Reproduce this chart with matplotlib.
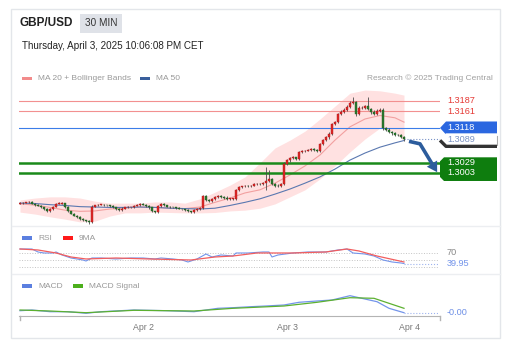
import numpy as np
import matplotlib.pyplot as plt
from matplotlib.patches import Polygon, Rectangle

plt.rcParams['font.family'] = ['Liberation Sans', 'DejaVu Sans']

# ---------------- data ----------------
# 30 min closes, GBP/USD
closes = [1.2926, 1.2927, 1.2928, 1.2929, 1.2925, 1.2921, 1.2919, 1.2915, 1.2911, 1.2906,
          1.2911, 1.2917, 1.2925, 1.2925, 1.2926, 1.2916, 1.2906, 1.2899, 1.2894, 1.2891,
          1.2885, 1.2883, 1.2880, 1.2878, 1.2917, 1.2920, 1.2922, 1.2922, 1.2921, 1.2920,
          1.2919, 1.2916, 1.2911, 1.2908, 1.2912, 1.2915, 1.2916, 1.2916, 1.2919, 1.2921,
          1.2924, 1.2922, 1.2919, 1.2915, 1.2906, 1.2903, 1.2919, 1.2924, 1.2920, 1.2917,
          1.2916, 1.2915, 1.2913, 1.2911, 1.2910, 1.2908, 1.2906, 1.2903, 1.2908, 1.2911,
          1.2913, 1.2943, 1.2934, 1.2931, 1.2937, 1.2942, 1.2944, 1.2942, 1.2940, 1.2937,
          1.2937, 1.2937, 1.2960, 1.2967, 1.2969, 1.2970, 1.2969, 1.2971, 1.2975, 1.2976,
          1.2975, 1.2977, 1.2983, 1.2988, 1.2976, 1.2971, 1.2970, 1.2975, 1.3026, 1.3036,
          1.3041, 1.3043, 1.3039, 1.3057, 1.3059, 1.3060, 1.3062, 1.3064, 1.3062, 1.3059,
          1.3077, 1.3087, 1.3094, 1.3103, 1.3128, 1.3133, 1.3154, 1.3160, 1.3164, 1.3172,
          1.3182, 1.3184, 1.3154, 1.3169, 1.3170, 1.3173, 1.3167, 1.3159, 1.3154, 1.3161,
          1.3164, 1.3118, 1.3113, 1.3108, 1.3104, 1.3101, 1.3100, 1.3095, 1.3089]
first_open = 1.2925
# wick length above / below the body, in pips
wick_up = [2, 1, 2, 3, 2, 1, 2, 2, 1, 2,
           3, 2, 2, 3, 2, 1, 2, 1, 2, 2,
           1, 2, 1, 2, 3, 2, 2, 3, 2, 1,
           2, 2, 1, 2, 3, 2, 2, 1, 2, 3,
           2, 2, 1, 2, 2, 1, 3, 2, 2, 1,
           2, 1, 2, 2, 1, 2, 2, 1, 2, 2,
           2, 3, 3, 2, 2, 2, 3, 2, 2, 3,
           2, 2, 3, 2, 2, 3, 2, 2, 3, 2,
           2, 3, 35, 23, 2, 2, 3, 2, 4, 3,
           3, 4, 2, 3, 3, 2, 3, 2, 2, 3,
           3, 2, 3, 4, 3, 4, 3, 3, 4, 4,
           5, 13, 4, 5, 4, 4, 24, 3, 4, 5,
           4, 5, 3, 4, 3, 3, 2, 3, 2]
wick_dn = [2, 2, 1, 2, 2, 2, 1, 2, 3, 2,
           2, 2, 1, 2, 2, 2, 3, 2, 2, 3,
           2, 3, 2, 5, 2, 2, 1, 2, 2, 2,
           2, 2, 3, 2, 2, 1, 2, 2, 2, 1,
           2, 2, 2, 3, 2, 3, 2, 2, 1, 2,
           2, 2, 2, 1, 2, 2, 2, 3, 2, 2,
           2, 2, 3, 2, 3, 2, 2, 2, 3, 2,
           2, 3, 2, 2, 3, 2, 2, 2, 2, 3,
           2, 3, 17, 4, 3, 3, 2, 3, 3, 3,
           4, 3, 3, 2, 3, 3, 2, 3, 3, 2,
           3, 3, 2, 3, 3, 3, 3, 2, 3, 3,
           3, 3, 5, 4, 3, 4, 4, 4, 3, 3,
           3, 4, 3, 3, 3, 4, 3, 3, 3]

# indicators sampled every 5 candles
ind_idx = [0, 5, 10, 15, 20, 25, 30, 35, 40, 45, 50, 55, 60, 65, 70, 75, 80, 85, 90,
           95, 100, 105, 110, 115, 120, 125, 128]
ma20 = [1.2924, 1.2921, 1.2915, 1.2908, 1.2905, 1.2906, 1.2911, 1.2913, 1.2916, 1.2915,
        1.2913, 1.2912, 1.2916, 1.2928, 1.2939, 1.2952, 1.2960, 1.2977, 1.2998, 1.3021,
        1.3049, 1.3087, 1.3121, 1.3141, 1.3150, 1.3144, 1.3133]
bb_upper = [1.2934, 1.2939, 1.2942, 1.2942, 1.2939, 1.2931, 1.2926, 1.2926, 1.2926, 1.2929,
            1.2929, 1.2926, 1.2937, 1.2954, 1.2972, 1.2993, 1.3029, 1.3067, 1.3087, 1.3110,
            1.3141, 1.3174, 1.3207, 1.3215, 1.3213, 1.3207, 1.3202]
bb_lower = [1.2903, 1.2898, 1.2891, 1.2885, 1.2878, 1.2880, 1.2893, 1.2901, 1.2901, 1.2903,
            1.2902, 1.2901, 1.2901, 1.2902, 1.2906, 1.2908, 1.2913, 1.2924, 1.2942, 1.2960,
            1.2988, 1.3021, 1.3057, 1.3090, 1.3118, 1.3108, 1.3085]
ma50 = [1.2926, 1.2925, 1.2922, 1.2920, 1.2917, 1.2916, 1.2915, 1.2915, 1.2916, 1.2915,
        1.2913, 1.2912, 1.2911, 1.2913, 1.2920, 1.2928, 1.2937, 1.2949, 1.2962, 1.2977,
        1.2993, 1.3013, 1.3036, 1.3054, 1.3069, 1.3080, 1.3086]

rsi_idx = [0, 4, 6, 8, 11, 12, 14, 17, 21, 22, 24, 27, 32, 37, 41, 45, 47, 51, 54, 56, 59,
           62, 64, 67, 71, 72, 76, 81, 83, 84, 86, 91, 96, 102, 106, 109, 111, 115, 118,
           121, 124, 127, 128]
rsi_val = [81.4, 81.4, 72.9, 70, 70, 72.9, 64.3, 55.7, 50, 47.1, 55.7, 55.7, 52.9, 55.7,
           55.7, 52.9, 55.7, 52.9, 50, 44.3, 52.9, 67.1, 58.6, 64.3, 61.4, 70, 70, 72.9,
           72.9, 58.6, 64.3, 70, 72.9, 72.9, 78.6, 81.4, 70, 67.1, 61.4, 50, 44.3, 41.4, 39.95]
rsi9_idx = [0, 6, 12, 17, 22, 32, 43, 57, 65, 71, 79, 91, 102, 109, 113, 119, 128]
rsi9_val = [81.4, 78.6, 70, 58.6, 52.9, 55.7, 52.9, 50, 58.6, 61.4, 70, 70, 72.9, 81.4,
            75.7, 61.4, 44.3]
rsi_levels = [70, 50, 30]

macd_idx = [0, 4, 10, 16, 22, 27, 38, 49, 58, 66, 71, 77, 82, 88, 93, 99, 104, 110, 113,
            119, 123, 128]
macd_val = [0.00013, 0.0002, 0.00003, 0.00003, -0.00013, 0.00003, 0.0002, 0.00013, 0.00003,
            0.00037, 0.00043, 0.00053, 0.0006, 0.0007, 0.00097, 0.0011, 0.0012, 0.00163,
            0.00143, 0.00103, 0.00037, -0.00007]
sig_idx = [0, 10, 22, 38, 58, 71, 88, 99, 110, 118, 123, 128]
sig_val = [0.0002, 0.0001, -0.00007, 0.00017, 0.0001, 0.00037, 0.0006, 0.00097, 0.00143,
           0.00137, 0.00087, 0.00037]

resist = [1.3187, 1.3161]
pivot = 1.3118
support = [1.3029, 1.3003]
last_price = 1.3089
date_ticks = [41.3, 89.3, 130]
date_labels = ['Apr 2', 'Apr 3', 'Apr 4']

# ---------------- layout (pixels, top-down) ----------------
W, H = 510, 352
fig = plt.figure(figsize=(W / 100, H / 100), dpi=100)
fig.patch.set_facecolor('white')

def box(x0, y0, x1, y1):  # pixel rect -> figure fraction
    return [x0 / W, 1 - y1 / H, (x1 - x0) / W, (y1 - y0) / H]

XLIM = (-0.33, 140)
ax = fig.add_axes(box(19, 88, 440, 228))
ax_rsi = fig.add_axes(box(19, 242, 440, 270))
ax_macd = fig.add_axes(box(19, 288, 440, 316))
for a in (ax, ax_rsi, ax_macd):
    a.set_xlim(*XLIM)
    for s in a.spines.values():
        s.set_visible(False)
    a.set_yticks([])
    a.set_xticks([])
ax.set_ylim(1.28624, 1.32202)
ax_rsi.set_ylim(21.4, 101.4)
ax_macd.set_ylim(-0.0004, 0.0024)

# ---------------- main price panel ----------------
n = len(closes)
x = np.arange(n)
c = np.array(closes)
o = np.r_[first_open, c[:-1]]
hi = np.maximum(o, c) + np.array(wick_up) * 1e-4
lo = np.minimum(o, c) - np.array(wick_dn) * 1e-4
up = c >= o
col = np.where(up, '#e02626', '#2b7a2e')  # red = up, green = down on this chart
edge = np.where(up, '#a81818', '#1d5a20')

ax.fill_between(ind_idx, bb_lower, bb_upper, color='#ffdede', alpha=0.9, lw=0, zorder=1)
ax.plot(ind_idx, ma20, color='#f2a0a0', lw=0.8, zorder=2)
ax.plot(ind_idx, ma50, color='#5a78b0', lw=0.8, zorder=2)

for lv in resist:
    ax.axhline(lv, color='#f29090', lw=0.8, zorder=2)
ax.axhline(pivot, color='#3b7de8', lw=0.8, zorder=2)
for lv in support:
    ax.axhline(lv, color='#1a8a1a', lw=1.8, zorder=2)

ax.vlines(x, lo, hi, color='#4a4a4a', lw=0.6, zorder=3)
ax.bar(x, np.maximum(np.abs(c - o), 0.0001), bottom=np.minimum(o, c), width=0.8,
       color=col, edgecolor=edge, lw=0.3, zorder=4)
ax.plot([n - 1, XLIM[1]], [last_price] * 2, ls=':', color='#7a93c8', lw=0.8, zorder=2)

# ---------------- RSI panel ----------------
for lv in rsi_levels:
    ax_rsi.plot([XLIM[0], 139.3], [lv, lv], ls=':', color='#c4c4c4', lw=0.7)
ax_rsi.plot(rsi_idx, rsi_val, color='#7394ea', lw=0.8)
ax_rsi.plot(rsi9_idx, rsi9_val, color='#f25e5e', lw=0.9)
ax_rsi.plot([rsi_idx[-1], 139.3], [rsi_val[-1]] * 2, ls=':', color='#9db3ee', lw=0.8)

# ---------------- MACD panel ----------------
ax_macd.plot(macd_idx, macd_val, color='#7394ea', lw=0.9)
ax_macd.plot(sig_idx, sig_val, color='#5cb030', lw=0.9)
ax_macd.plot([macd_idx[-1], 139.3], [macd_val[-1]] * 2, ls=':', color='#9db3ee', lw=0.8)
ax_macd.spines['bottom'].set_visible(True)
ax_macd.spines['bottom'].set_color('#b4b4b4')
ax_macd.set_xticks(date_ticks, date_labels)
ax_macd.tick_params(axis='x', length=0, pad=5, labelsize=6.3, labelcolor='#777777')

# ---------------- overlay (pixel coords) ----------------
ov = fig.add_axes([0, 0, 1, 1], zorder=10)
ov.set_xlim(0, W)
ov.set_ylim(H, 0)
ov.axis('off')

def py(a, v):  # data value -> top-down pixel y
    return H - a.transData.transform((0, v))[1]

def pxx(a, i):
    return a.transData.transform((i, 0))[0]

# card + separators
ov.add_patch(Rectangle((11.5, 8.5), 488.5, 329.5, fill=False, ec='#e3e6ea', lw=1))
for yy in (226, 274):
    ov.plot([12, 500], [yy, yy], color='#eceef1', lw=1)
for xx in (20, 440):
    ov.plot([xx, xx], [316, 320], color='#b4b4b4', lw=1)

# header
ov.text(20, 23.5, 'GBP/USD', fontsize=8.5, fontweight='bold', color='#222222', va='center')
ov.add_patch(Rectangle((80, 14), 42, 19, fc='#dfe2e8', ec='none'))
ov.text(101, 23.5, '30 MIN', fontsize=7.2, color='#333333', ha='center', va='center')
ov.text(22, 46, 'Thursday, April 3, 2025 10:06:08 PM CET', fontsize=7.1, color='#222222',
        va='center')

# legends
def leg(xr, y, color, label):
    ov.add_patch(Rectangle((xr, y - 1.7), 10, 3.4, fc=color, ec='none'))
    ov.text(xr + 16, y, label, fontsize=6, color='#999999', va='center')

leg(22, 78.5, '#f28b8b', 'MA 20 + Bollinger Bands')
leg(140, 78.5, '#3a5f9c', 'MA 50')
ov.text(493, 78.5, 'Research © 2025 Trading Central', fontsize=6, color='#a0a0a0',
        ha='right', va='center')
leg(22, 238, '#5b7fe0', 'RSI')
leg(63, 238, '#ff1a1a', '9MA')
leg(22, 286, '#5b7fe0', 'MACD')
leg(73, 286, '#4caf1c', 'MACD Signal')

# right side price labels
fs = 6.6
for lv in resist:
    ov.text(447, py(ax, lv), f'{lv:.4f}', fontsize=fs, color='#e53935', va='center')

yc = py(ax, pivot)
ov.add_patch(Polygon([(440, yc), (446, yc - 6.5), (497, yc - 6.5), (497, yc + 6.5),
                      (446, yc + 6.5)], fc='#2b67e0', ec='none'))
ov.text(447, yc, f'{pivot:.4f}', fontsize=fs, color='white', va='center')

yc = py(ax, last_price)
ov.add_patch(Polygon([(440, yc), (446, yc - 6), (497, yc - 6), (497, yc + 6),
                      (446, yc + 6)], fc='white', ec='none'))
ov.plot([497, 497], [yc - 3, yc + 6], color='#aaaaaa', lw=0.8)
ov.plot([440, 446, 497], [yc + 1, yc + 7, yc + 7], color='#333333', lw=2.4,
        solid_capstyle='butt')
ov.text(447, yc, f'{last_price:.4f}', fontsize=fs, color='#7b93c4', va='center')

top = py(ax, support[0]) - 5.5
bot = py(ax, support[1]) + 8
ov.add_patch(Polygon([(444, top), (497, top), (497, bot), (444, bot), (440, bot - 4),
                      (440, top + 4)], fc='#0e7d0e', ec='none'))
for lv in support:
    ov.text(447, py(ax, lv), f'{lv:.4f}', fontsize=fs, color='white', va='center')

# forecast arrow from the last candle
sx, sy = pxx(ax, n - 1) + 5, py(ax, last_price) + 2
path = np.array([[sx, sy], [sx + 11, sy + 2.5], [sx + 24, sy + 24]])
ov.plot(path[:, 0], path[:, 1], color='#2c5c9c', lw=2.6, solid_capstyle='butt')
d = path[2] - path[1]
d = d / np.hypot(*d)
tip = path[2] + 8 * d
base = tip - 10 * d
perp = np.array([-d[1], d[0]]) * 6
ov.add_patch(Polygon([tip, base + perp, base - perp], fc='#2c5c9c', ec='none'))

# oscillator labels
ov.text(447, py(ax_rsi, 70), '70', fontsize=fs, color='#888888', va='center')
ov.text(447, py(ax_rsi, rsi_val[-1]), f'{rsi_val[-1]:.2f}', fontsize=fs, color='#7394ea',
        va='center')
ov.text(447, py(ax_macd, macd_val[-1]), f'{macd_val[-1]:.2f}', fontsize=fs, color='#6d8fe6',
        va='center')

fig.savefig('out.png', dpi=100)
